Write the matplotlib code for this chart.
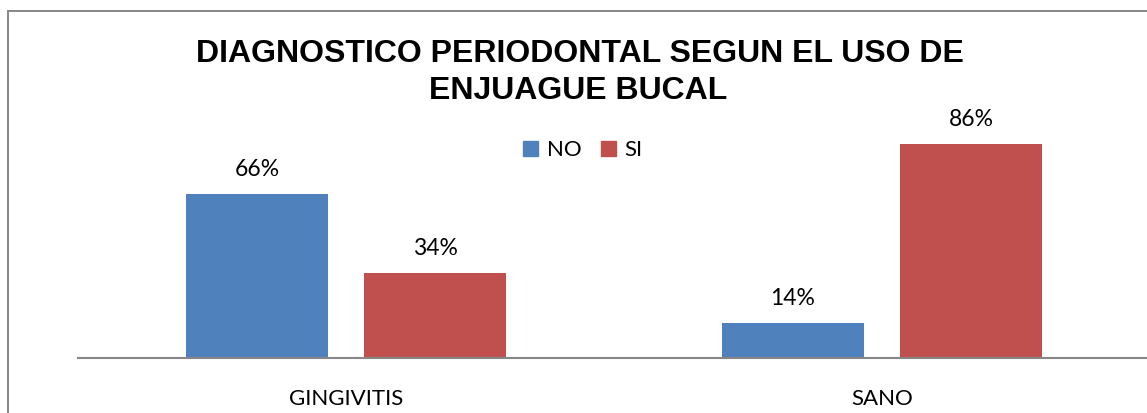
import matplotlib
matplotlib.use("Agg")
import matplotlib.pyplot as plt
from matplotlib.patches import Rectangle, Patch
import numpy as np

categories = ["GINGIVITIS", "SANO"]
no_values = [66, 14]
si_values = [34, 86]
series_names = ["NO", "SI"]
title_lines = ["DIAGNOSTICO PERIODONTAL SEGUN EL USO DE", "ENJUAGUE BUCAL"]

blue = "#4F81BD"
red = "#C0504D"
grey = "#868686"
label_font = "Lato"

W, H = 1147, 413
fig = plt.figure(figsize=(W / 100, H / 100), dpi=100)

# outer chart border (right/bottom run off the image)
fig.patches.append(Rectangle((8 / W, -0.1), 1.2, 1 - 11 / H + 0.1,
                             transform=fig.transFigure, fill=False,
                             edgecolor=grey, linewidth=1.4))

ax = fig.add_axes([78 / W, (H - 358) / H, (1150 - 78) / W, 258 / H])
x = np.arange(len(categories))
w = 0.265
off = 0.166
b1 = ax.bar(x - off, no_values, w, color=blue)
b2 = ax.bar(x + off, si_values, w, color=red)

ax.set_xlim(-0.5, 1.5)
ax.set_ylim(0, 258 / 2.49)
for s in ["top", "right", "left"]:
    ax.spines[s].set_visible(False)
ax.spines["bottom"].set_color(grey)
ax.spines["bottom"].set_linewidth(1.5)
ax.set_yticks([])
ax.set_xticks(x)
ax.set_xticklabels(categories, fontfamily=label_font, fontsize=16)
ax.tick_params(axis="x", length=0, pad=22)

for bars, vals in [(b1, no_values), (b2, si_values)]:
    for bar, v in zip(bars, vals):
        ax.annotate(f"{v}%", (bar.get_x() + bar.get_width() / 2, v),
                    xytext=(0, 13), textcoords="offset points",
                    ha="center", va="baseline", fontsize=16.5, fontfamily=label_font)

fig.text(580 / W, 1 - 62 / H, title_lines[0], ha="center", va="baseline",
         fontsize=23, fontweight="bold", fontfamily="Liberation Sans")
fig.text(578 / W, 1 - 99 / H, title_lines[1], ha="center", va="baseline",
         fontsize=23, fontweight="bold", fontfamily="Liberation Sans")

handles = [Patch(color=blue), Patch(color=red)]
fig.legend(handles, series_names, loc="center", bbox_to_anchor=(583 / W, 1 - 150 / H),
           ncol=2, frameon=False, handlelength=0.65, handleheight=0.65,
           handletextpad=0.4, columnspacing=0.9,
           prop={"family": label_font, "size": 16})

fig.savefig("out.png", dpi=100)
